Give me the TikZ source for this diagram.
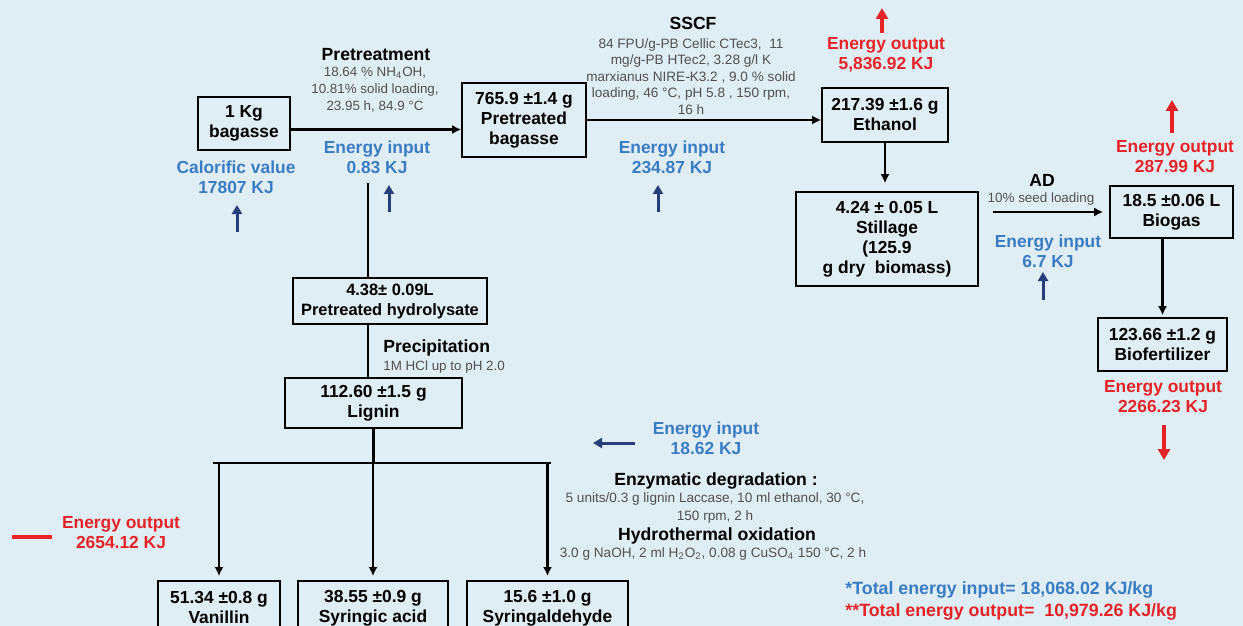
\documentclass[tikz,border=0pt]{standalone}
\usepackage{fontspec}
\setmainfont{Liberation Sans}
\usetikzlibrary{arrows.meta}
\usetikzlibrary{positioning}
\definecolor{bgblue}{RGB}{223,237,244}
\definecolor{inblue}{RGB}{58,124,196}
\definecolor{arrblue}{RGB}{38,62,122}
\definecolor{outred}{RGB}{230,36,40}
\definecolor{condgray}{RGB}{80,80,80}

\begin{document}
\begin{tikzpicture}[x=0.5pt,y=-0.5pt,
box/.style={draw,line width=0.8pt,align=center,inner sep=1pt,
            font=\fontsize{8.7}{10}\selectfont\bfseries},
head/.style={inner sep=1pt,font=\fontsize{8.8}{10}\selectfont\bfseries},
cond/.style={align=center,inner sep=1pt,text=condgray,
             font=\fontsize{6.7}{8.5}\selectfont},
ein/.style={align=center,inner sep=1pt,text=inblue,
            font=\fontsize{8.7}{10}\selectfont\bfseries},
eout/.style={ein,text=outred},
flow/.style={line width=1.3pt,-{Latex[length=4.5pt,width=4.5pt]}},
link/.style={line width=1.3pt},
inarr/.style={line width=1.5pt,arrblue,-{Triangle[length=4.5pt,width=5pt]}},
outarr/.style={line width=2pt,outred,-{Triangle[length=5.5pt,width=6pt]}}]

\path[use as bounding box,fill=bgblue] (0,0) rectangle (1243,626);
\clip (0,0) rectangle (1243,626);

% mass balance boxes
\node[box,minimum width=46pt,minimum height=26.5pt] (bag) at (244,123.5) {1 Kg\\bagasse};
\node[box,minimum width=62pt,minimum height=37pt] (ptb) at (524,120) {765.9 ±1.4 g\\Pretreated\\bagasse};
\node[box,minimum width=63pt,minimum height=27pt] (eth) at (885,115) {217.39 ±1.6 g\\Ethanol};
\node[box,minimum width=91pt,minimum height=47pt] (stil) at (887,239) {4.24 ± 0.05 L\\Stillage\\(125.9\\g dry~~biomass)};
\node[box,minimum width=61.5pt,minimum height=26pt] (bio) at (1171.5,212) {18.5 ±0.06 L\\Biogas};
\node[box,minimum width=64.5pt,minimum height=26.5pt] (fert) at (1162.5,344.5) {123.66 ±1.2 g\\Biofertilizer};
\node[box,minimum width=97pt,minimum height=23pt,font=\fontsize{8.2}{10}\selectfont\bfseries] (hyd) at (390,301) {4.38± 0.09L\\Pretreated hydrolysate};
\node[box,minimum width=88.5pt,minimum height=25pt] (lig) at (373.5,403) {112.60 ±1.5 g\\Lignin};
\node[box,minimum width=61pt,minimum height=27pt,anchor=north] (van) at (219,580) {51.34 ±0.8 g\\Vanillin};
\node[box,minimum width=75pt,minimum height=27pt,anchor=north] (syr) at (373,580) {38.55 ±0.9 g\\Syringic acid};
\node[box,minimum width=80.5pt,minimum height=27pt,anchor=north] (syd) at (547.5,580) {15.6 ±1.0 g\\Syringaldehyde};

% process conditions
\node[head] (pretrhd) at (376,55) {Pretreatment};
\node[cond] (pretr) at (375,90) {18.64 \% NH\textsubscript{4}OH,\\10.81\% solid loading,\\23.95 h, 84.9 °C};
\node[head] (sscfhd) at (693,23) {SSCF};
\node[cond,font=\fontsize{6.8}{8.3}\selectfont] (sscf) at (691,76.5) {84 FPU/g-PB Cellic CTec3,~~11\\mg/g-PB HTec2, 3.28 g/l K\\marxianus NIRE-K3.2 , 9.0 \% solid\\loading, 46 °C, pH 5.8 , 150 rpm,\\16 h};
\node[head] (adhd) at (1042,180) {AD};
\node[cond] (ad) at (1041,199) {10\% seed loading};
\node[head,anchor=west] (prechd) at (381,348) {Precipitation};
\node[cond,anchor=west] (prec) at (381,367) {1M HCl up to pH 2.0};
\node[head] (enzhd) at (716,481) {Enzymatic degradation :};
\node[cond,font=\fontsize{6.8}{8.7}\selectfont] (enz) at (715,508) {5 units/0.3 g lignin Laccase, 10 ml ethanol, 30 °C,\\150 rpm, 2 h};
\node[head] (hydhd) at (717,536) {Hydrothermal oxidation};
\node[cond,font=\fontsize{6.8}{8.7}\selectfont] (hydox) at (713,554) {3.0 g NaOH, 2 ml H\textsubscript{2}O\textsubscript{2}, 0.08 g CuSO\textsubscript{4} 150 °C, 2 h};

% energy labels
\node[ein] (calv) at (236,177) {Calorific value\\17807 KJ};
\node[ein] (ein1) at (377,157) {Energy input\\0.83 KJ};
\node[ein] (ein2) at (672,157) {Energy input\\234.87 KJ};
\node[ein] (ein3) at (1048,251) {Energy input\\6.7 KJ};
\node[ein] (ein4) at (706,438) {Energy input\\18.62 KJ};
\node[eout] (eout1) at (886,55) {Energy output\\5,836.92 KJ};
\node[eout] (eout2) at (1175,157) {Energy output\\287.99 KJ};
\node[eout] (eout3) at (1163,397) {Energy output\\2266.23 KJ};
\node[eout] (eout4) at (121,533) {Energy output\\2654.12 KJ};
\node[anchor=west,align=left,inner sep=0pt,font=\fontsize{8.9}{11}\selectfont\bfseries] (tot) at (845,601)
  {\textcolor{inblue}{*Total energy input= 18,068.02 KJ/kg}\\\textcolor{outred}{**Total energy output=~~10,979.26 KJ/kg}};

% mass flow
\draw[flow] ([yshift=-3pt]bag.east) -- ([yshift=-3pt]bag.east -| ptb.west);
\draw[flow] (ptb.east) -- (ptb.east -| eth.west);
\draw[flow,shorten >=4pt] (eth.south) -- (eth.south |- stil.north);
\draw[flow,shorten <=7pt,shorten >=3pt] (stil.east |- bio.west) -- (bio.west);
\draw[flow,shorten >=1pt] (bio.south -| fert.north) -- (fert.north);
\coordinate (split) at (368,183);
\draw[link] (split) -- (split |- hyd.north);
\draw[link] (split |- hyd.south) -- (split |- lig.north);
\coordinate (fork) at (373,463);
\coordinate (forkl) at (213,463);
\coordinate (forkr) at (551,463);
\draw[link] (lig.south) -- (lig.south |- fork);
\draw[link] (forkl) -- (forkr);
\foreach \b in {van,syr,syd}
  \draw[flow,shorten >=2pt] (\b.north |- fork) -- (\b.north);

% energy arrows
\foreach \n/\x/\ya/\yb in {calv/237/232/205,ein1/389/212/185,ein2/658/212/185,ein3/1043/300/272}{
  \coordinate (\n-a) at (\x,\ya);
  \coordinate (\n-b) at (\x,\yb);
  \draw[inarr] (\n-a) -- (\n-b);
}
\coordinate (ein4-a) at (635,443);
\coordinate (ein4-b) at (593,443);
\draw[inarr] (ein4-a) -- (ein4-b);
\foreach \n/\x/\ya/\yb in {eout1/882/33/8,eout2/1172/133/100,eout3/1164/425/460}{
  \coordinate (\n-a) at (\x,\ya);
  \coordinate (\n-b) at (\x,\yb);
  \draw[outarr] (\n-a) -- (\n-b);
}
\coordinate (eout4-a) at (12,537);
\coordinate (eout4-b) at (52,537);
\draw[line width=2pt,outred] (eout4-a) -- (eout4-b);
\end{tikzpicture}
\end{document}
